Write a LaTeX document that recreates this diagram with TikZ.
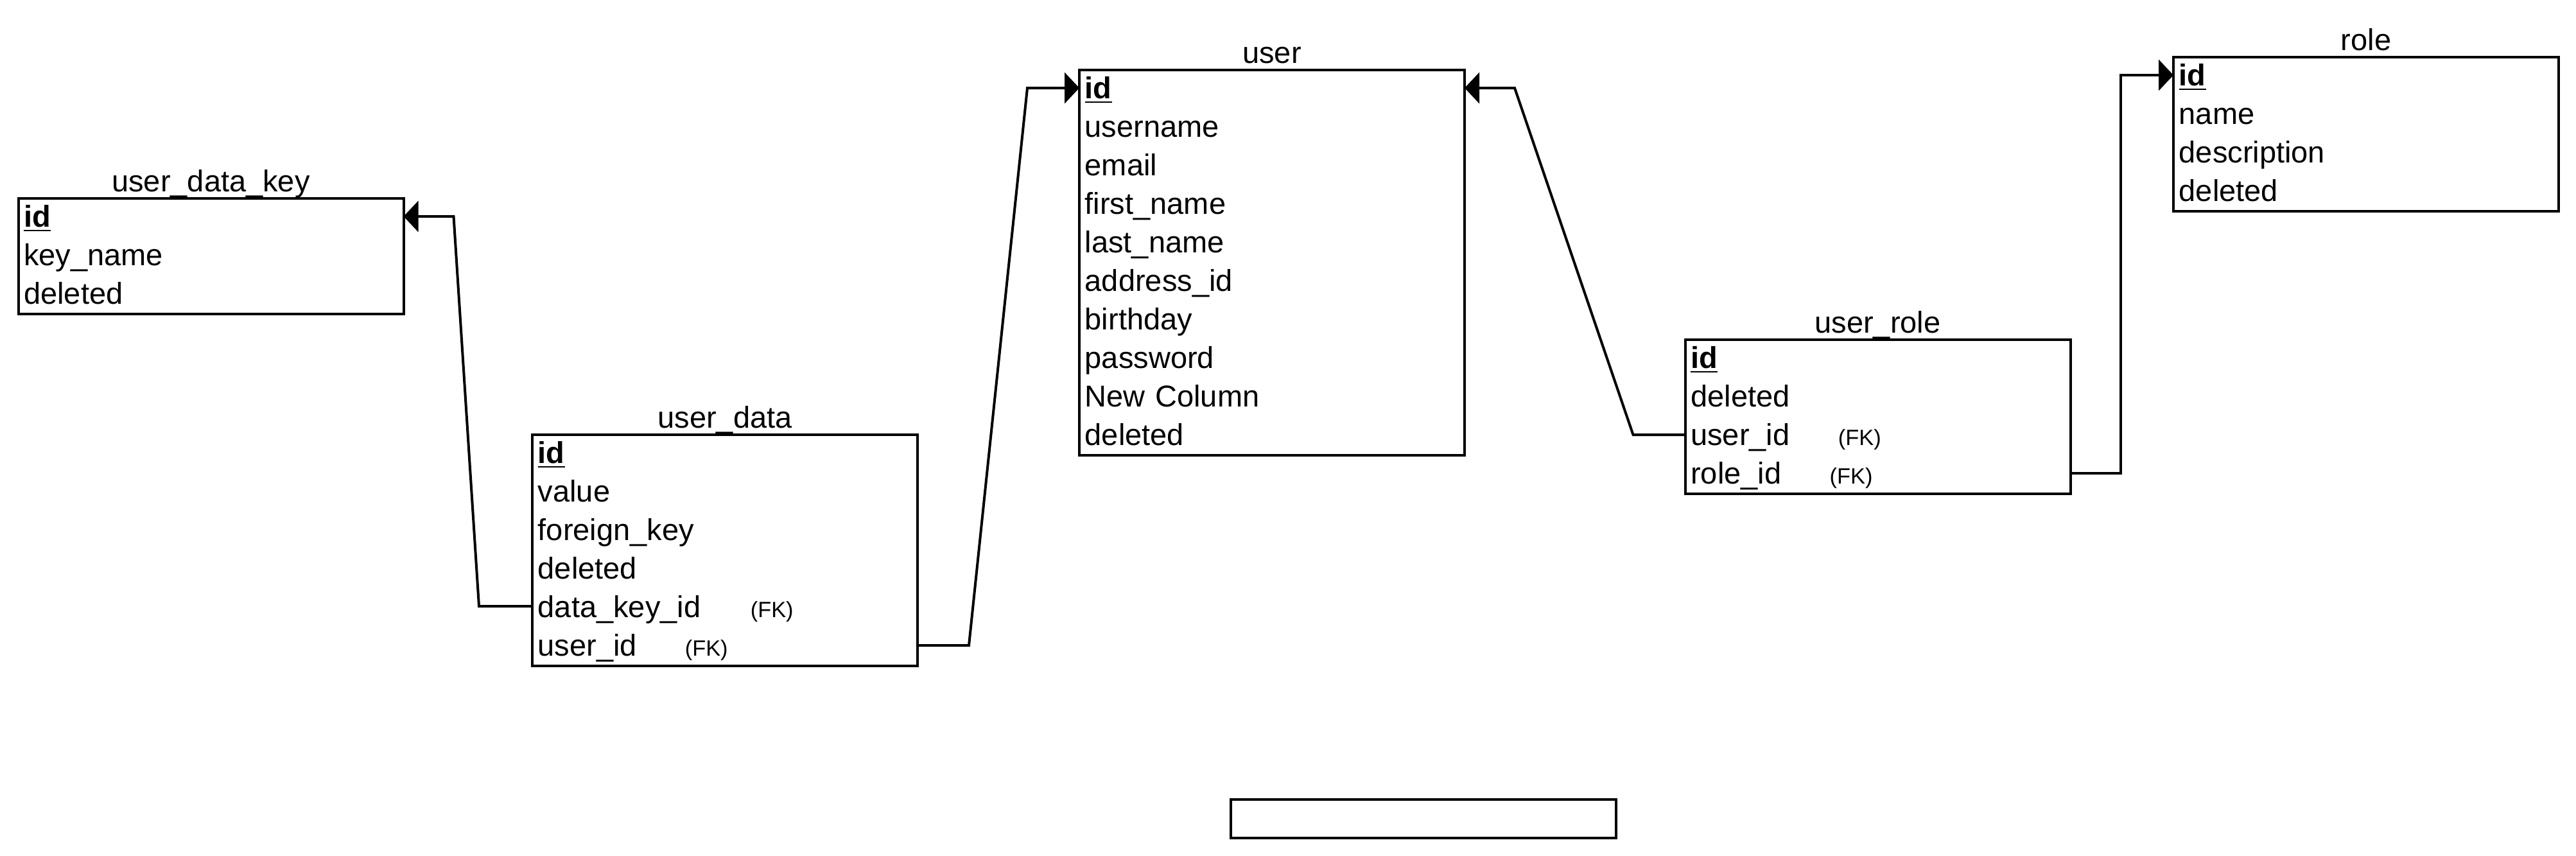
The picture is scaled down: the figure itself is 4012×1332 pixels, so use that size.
\documentclass[tikz,border=0pt]{standalone}
\usepackage{fontspec}
\setmainfont{Liberation Sans}
\usetikzlibrary{arrows.meta,calc}
\newcommand{\fklab}[2]{\makebox[#1][l]{#2}{\fontsize{8.6pt}{10pt}\selectfont (FK)}}
\newcommand{\pkid}{\underline{\textbf{id}}}
\begin{document}
\begin{tikzpicture}[x=0.25pt,y=-0.25pt,
  every node/.style={font=\fontsize{11.75pt}{14pt}\selectfont},
  tbl/.style={draw, line width=1pt, minimum width=150pt, minimum height=#1, inner sep=0pt, outer sep=0pt, anchor=north west},
  fld/.style={inner xsep=2.2pt, inner ysep=0pt, outer sep=0pt, text width=145.6pt, align=left, text height=11pt, text depth=4pt, anchor=north west},
  ttl/.style={anchor=base, inner sep=0pt},
  conn/.style={line width=1pt, -{Triangle[length=5.75pt,width=12pt]}}
]
\useasboundingbox (0,0) rectangle (4012,1332);

% user_data_key
\node[tbl=45pt] (udk) at (28.5,309) {};
\node[ttl] (udkT) at ([yshift=2.75pt]udk.north) {user\_data\_key};
\node[fld] (udk1) at (udk.north west) {\pkid};
\node[fld] (udk2) at (udk1.south west) {key\_name};
\node[fld] (udk3) at (udk2.south west) {deleted};

% user_data
\node[tbl=90pt] (ud) at (829,677) {};
\node[ttl] (udT) at ([yshift=2.75pt]ud.north) {user\_data};
\node[fld] (ud1) at (ud.north west) {\pkid};
\node[fld] (ud2) at (ud1.south west) {value};
\node[fld] (ud3) at (ud2.south west) {foreign\_key};
\node[fld] (ud4) at (ud3.south west) {deleted};
\node[fld] (ud5) at (ud4.south west) {\fklab{82.75pt}{data\_key\_id}};
\node[fld] (ud6) at (ud5.south west) {\fklab{57.25pt}{user\_id}};

% user
\node[tbl=150pt] (us) at (1681,109) {};
\node[ttl] (usT) at ([yshift=2.75pt]us.north) {user};
\node[fld] (us1) at (us.north west) {\pkid};
\node[fld] (us2) at (us1.south west) {username};
\node[fld] (us3) at (us2.south west) {email};
\node[fld] (us4) at (us3.south west) {first\_name};
\node[fld] (us5) at (us4.south west) {last\_name};
\node[fld] (us6) at (us5.south west) {address\_id};
\node[fld] (us7) at (us6.south west) {birthday};
\node[fld] (us8) at (us7.south west) {password};
\node[fld] (us9) at (us8.south west) {New Column};
\node[fld] (us10) at (us9.south west) {deleted};

% user_role
\node[tbl=60pt] (ur) at (2624.5,529) {};
\node[ttl] (urT) at ([yshift=2.75pt]ur.north) {user\_role};
\node[fld] (ur1) at (ur.north west) {\pkid};
\node[fld] (ur2) at (ur1.south west) {deleted};
\node[fld] (ur3) at (ur2.south west) {\fklab{57.4pt}{user\_id}};
\node[fld] (ur4) at (ur3.south west) {\fklab{54.1pt}{role\_id}};

% role
\node[tbl=60pt] (ro) at (3385,89) {};
\node[ttl] (roT) at ([yshift=2.75pt]ro.north) {role};
\node[fld] (ro1) at (ro.north west) {\pkid};
\node[fld] (ro2) at (ro1.south west) {name};
\node[fld] (ro3) at (ro2.south west) {description};
\node[fld] (ro4) at (ro3.south west) {deleted};

% empty box
\node[tbl=15pt] (empty) at (1917,1245) {};

% connectors
\draw[conn] ([yshift=0.75pt]ud5.west) -- ++(-83,0) -- ($([yshift=0.5pt]udk1.east)+(78,0)$) -- ([yshift=0.5pt]udk1.east);
\draw[conn] ([yshift=0.5pt]ud6.east) -- ++(80,0) -- ($([yshift=0.5pt]us1.west)+(-81,0)$) -- ([yshift=0.5pt]us1.west);
\draw[conn] ([yshift=0.5pt]ur3.west) -- ++(-81,0) -- ($([yshift=0.5pt]us1.east)+(78,0)$) -- ([yshift=0.5pt]us1.east);
\draw[conn] ([yshift=0.5pt]ur4.east) -- ++(78,0) |- ([yshift=0.5pt]ro1.west);
\end{tikzpicture}
\end{document}
